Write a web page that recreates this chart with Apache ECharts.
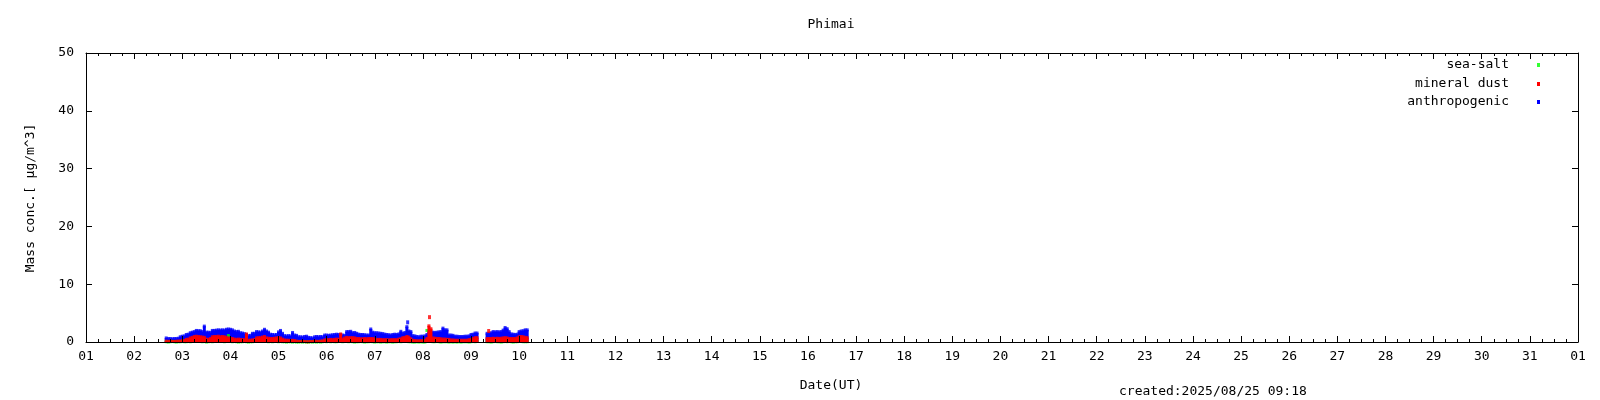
<!DOCTYPE html>
<html>
<head>
<meta charset="utf-8">
<script src="https://cdn.jsdelivr.net/npm/echarts@6/dist/echarts.min.js"></script>
<style>
html,body{margin:0;padding:0;background:#fff;}
#chart{width:1600px;height:400px;}
</style>
</head>
<body>
<div id="chart"></div>
<script>
// hourly samples; index 0 = hour 40 of the month (day 02, 16:00 UT)
const startHour = 40;
const seriesNames = ['sea-salt', 'mineral dust', 'anthropogenic'];
const seriesColors = ['#00ff00', '#ff0000', '#0000ff'];

const seaSalt = [
  0.05,0.0,0.05,0.1,0.05,0.0,0.05,0.05,0.1,0.05,
  0.05,0.1,0.05,0.1,0.15,0.1,0.3,0.1,0.05,0.1,
  0.0,0.05,0.1,0.05,0.1,0.1,0.15,0.1,0.1,0.05,
  0.1,1.1,0.1,0.05,0.1,0.05,0.0,0.05,0.05,0.1,
  0.05,0.0,0.05,0.05,0.1,0.1,0.15,0.1,0.1,0.2,
  0.1,0.05,0.1,0.05,0.1,0.1,0.05,0.1,0.05,0.05,
  0.0,0.05,0.05,0.0,0.05,0.0,0.0,0.05,0.0,0.05,
  0.0,0.0,0.05,0.0,0.05,0.0,0.05,0.0,0.05,0.1,
  0.05,0.1,0.05,0.1,0.05,0.05,0.1,0.1,0.05,0.1,
  0.1,0.05,0.1,0.05,0.0,0.05,0.05,0.1,0.05,0.0,
  0.05,0.05,0.1,0.05,0.0,0.05,0.05,0.0,0.05,0.05,
  0.0,0.05,0.05,0.0,0.05,0.05,0.1,0.05,0.1,0.1,
  0.1,0.05,0.05,0.0,0.0,0.05,0.0,0.05,0.0,0.0,
  2.0,0.1,0.1,0.05,0.05,0.1,0.05,0.0,0.05,0.05,
  0.05,0.0,0.05,0.0,0.05,0.0,0.05,0.0,0.05,0.05,
  0.05,0.0,0.05,0.1,0.05,0.1,null,null,null,null,
  0.05,0.05,0.0,0.05,0.1,0.05,0.05,0.0,0.05,0.1,
  0.05,0.1,0.05,0.0,0.05,0.05,0.1,0.1,0.05,0.05,
  0.05
];

const mineralDust = [
  0.15,0.1,0.12,0.1,0.1,0.12,0.15,0.15,0.2,0.25,
  0.45,0.5,0.7,0.8,0.95,1.0,0.95,0.9,0.85,0.8,
  0.5,0.45,0.6,0.9,0.95,0.95,1.0,0.9,0.95,0.9,
  0.8,0.7,0.65,0.6,0.5,0.45,0.5,0.45,0.4,0.4,
  1.4,0.3,0.3,0.35,0.4,0.7,0.75,0.75,0.85,0.95,
  0.7,0.65,0.6,0.6,0.65,0.7,0.75,0.7,0.5,0.35,
  0.3,0.3,0.25,0.3,0.25,0.15,0.1,0.08,0.1,0.08,
  0.05,0.05,0.08,0.1,0.1,0.12,0.1,0.15,0.2,0.35,
  0.4,0.4,0.45,0.4,0.45,0.5,0.45,1.4,0.5,0.7,
  0.8,0.75,0.75,0.75,0.7,0.6,0.6,0.55,0.55,0.6,
  0.55,0.6,0.6,0.6,0.5,0.45,0.45,0.45,0.4,0.4,
  0.4,0.35,0.4,0.4,0.4,0.4,0.5,0.55,0.75,0.8,
  0.95,0.85,0.55,0.3,0.25,0.2,0.2,0.22,0.25,0.3,
  0.6,2.8,2.3,0.7,0.65,0.6,0.6,0.55,0.5,0.5,
  0.45,0.45,0.35,0.35,0.3,0.3,0.28,0.3,0.3,0.3,
  0.3,0.4,0.45,0.6,0.75,0.75,null,null,null,null,
  0.6,0.6,0.6,0.65,0.6,0.65,0.6,0.65,0.7,0.75,
  0.7,0.6,0.6,0.6,0.6,0.7,0.9,0.95,0.9,0.8,
  0.75
];

const anthropogenic = [
  0.7,0.6,0.6,0.55,0.6,0.6,0.65,0.9,1.0,1.05,
  1.3,1.35,1.6,1.7,1.8,2.0,1.95,1.95,1.8,2.75,
  1.7,1.7,1.65,2.0,2.0,2.05,2.1,2.05,2.1,2.05,
  2.2,2.25,2.2,2.1,1.9,1.8,1.85,1.6,1.55,1.45,
  1.3,1.1,1.15,1.5,1.5,1.8,1.75,1.7,1.9,2.2,
  1.9,1.7,1.35,1.3,1.25,1.3,1.75,2.0,1.5,1.1,
  1.05,1.1,1.05,1.65,1.2,1.15,0.9,0.9,0.85,0.95,
  1.0,0.8,0.75,0.7,0.9,0.95,0.9,0.95,0.9,1.2,
  1.2,1.15,1.2,1.25,1.3,1.35,1.3,1.25,1.2,1.15,
  1.8,1.8,1.85,1.6,1.65,1.5,1.35,1.3,1.3,1.25,
  1.2,1.2,2.25,1.7,1.6,1.6,1.55,1.5,1.45,1.35,
  1.3,1.25,1.2,1.3,1.35,1.3,1.4,1.85,1.5,1.65,
  2.65,1.9,1.8,1.1,1.05,0.95,0.9,1.0,1.0,1.05,
  1.3,1.8,1.75,1.7,1.65,1.7,1.75,1.8,2.4,2.1,
  2.1,1.2,1.2,1.15,1.0,1.0,0.95,0.95,0.95,1.0,
  1.0,1.05,1.3,1.35,1.55,1.55,null,null,null,null,
  1.5,1.5,1.6,1.8,1.75,1.8,1.75,1.8,2.05,2.5,
  2.3,1.8,1.4,1.35,1.3,1.35,1.8,1.9,1.95,2.1,
  2.1
];

// isolated readings [hour of month, value]
const dustPeaks = [[171.3, 4.3], [200.8, 1.9]];
const anthroPeaks = [[160.4, 3.4]];

const dayTicks = ['01','02','03','04','05','06','07','08','09','10','11','12','13','14','15','16',
  '17','18','19','20','21','22','23','24','25','26','27','28','29','30','31','01'];
const yTicks = [0, 10, 20, 30, 40, 50];

const FONT = 'DejaVu Sans Mono';
const toDay = h => 1 + h / 24;
const toPts = arr => arr.map((v, i) => [toDay(startHour + i), v]);
const peakPts = arr => arr.map(p => [toDay(p[0]), p[1]]);

const chart = echarts.init(document.getElementById('chart'), null, {renderer: 'canvas'});

function xAxisDef(pos, showLabel, tickOpt) {
  return {
    type: 'value', min: 1, max: 32, interval: 1, z: 10, position: pos,
    axisLine: {show: true, onZero: false, lineStyle: {color: '#000', width: 1}},
    axisTick: Object.assign({show: true, lineStyle: {color: '#000'}}, tickOpt.major),
    minorTick: Object.assign({show: true, splitNumber: 4, lineStyle: {color: '#000'}}, tickOpt.minor),
    splitLine: {show: false},
    axisLabel: {
      show: showLabel, margin: 8, color: '#000', fontFamily: FONT, fontSize: 13,
      formatter: v => dayTicks[Math.round(v) - 1] || ''
    }
  };
}
function yAxisDef(pos, showLabel, tickOpt) {
  return {
    type: 'value', min: 0, max: 50, interval: 10, z: 10, position: pos,
    axisLine: {show: true, onZero: false, lineStyle: {color: '#000', width: 1}},
    axisTick: Object.assign({show: true, lineStyle: {color: '#000'}}, tickOpt),
    splitLine: {show: false},
    axisLabel: {
      show: showLabel, margin: 12, color: '#000', fontFamily: FONT, fontSize: 13,
      formatter: v => (yTicks.indexOf(v) >= 0 ? String(v) : '')
    }
  };
}

const legendRows = [64, 83, 101];
const legends = seriesNames.map((n, i) => ({
  data: [{name: n, icon: 'rect'}],
  selectedMode: false,
  orient: 'horizontal',
  align: 'right',
  right: 60,
  top: legendRows[i] - 5.5,
  padding: 0,
  itemWidth: 3,
  itemHeight: 4,
  textStyle: {fontFamily: FONT, fontSize: 13, color: '#000', padding: [0, 23, 0, 0]}
}));

const dot = (name, color, z, data, size) => ({
  name: name, type: 'scatter', z: z,
  symbol: 'rect', symbolSize: size || [3, 3],
  itemStyle: {color: color},
  data: data
});
const bar = (name, color, z, data) => ({
  name: name, type: 'bar', z: z,
  barWidth: 3, barGap: '-100%',
  itemStyle: {color: color},
  data: data
});

chart.setOption({
  animation: false,
  backgroundColor: '#fff',
  color: seriesColors,
  grid: {left: 86, right: 22, top: 53, bottom: 58, containLabel: false},
  legend: legends,
  xAxis: [
    xAxisDef('bottom', true, {major: {inside: true, length: 6}, minor: {length: 3}}),
    xAxisDef('top', false, {major: {length: -6}, minor: {length: -3}})
  ],
  yAxis: [
    yAxisDef('left', true, {inside: true, length: 6}),
    yAxisDef('right', false, {length: -6})
  ],
  series: [
    dot('sea-salt', seriesColors[0], 4, toPts(seaSalt)),
    bar('mineral dust', seriesColors[1], 5, toPts(mineralDust)),
    bar('anthropogenic', seriesColors[2], 2, toPts(anthropogenic)),
    dot('mineral dust', seriesColors[1], 6, toPts(mineralDust)),
    dot('anthropogenic', seriesColors[2], 3, toPts(anthropogenic)),
    dot('mineral dust', seriesColors[1], 7, peakPts(dustPeaks), [3, 4]),
    dot('anthropogenic', seriesColors[2], 7, peakPts(anthroPeaks), [3, 4])
  ],
  graphic: [
    {type: 'text', x: 831, y: 25, style: {text: 'Phimai', font: '13px "DejaVu Sans Mono"', fill: '#000', align: 'center', verticalAlign: 'middle'}},
    {type: 'text', x: 831, y: 386, style: {text: 'Date(UT)', font: '13px "DejaVu Sans Mono"', fill: '#000', align: 'center', verticalAlign: 'middle'}},
    {type: 'text', x: 1119, y: 392, style: {text: 'created:2025/08/25 09:18', font: '13px "DejaVu Sans Mono"', fill: '#000', align: 'left', verticalAlign: 'middle'}},
    {type: 'text', x: 31, y: 198, rotation: Math.PI / 2, style: {text: 'Mass conc.[ μg/m^3]', font: '13px "DejaVu Sans Mono"', fill: '#000', align: 'center', verticalAlign: 'middle'}}
  ]
});
</script>
</body>
</html>
